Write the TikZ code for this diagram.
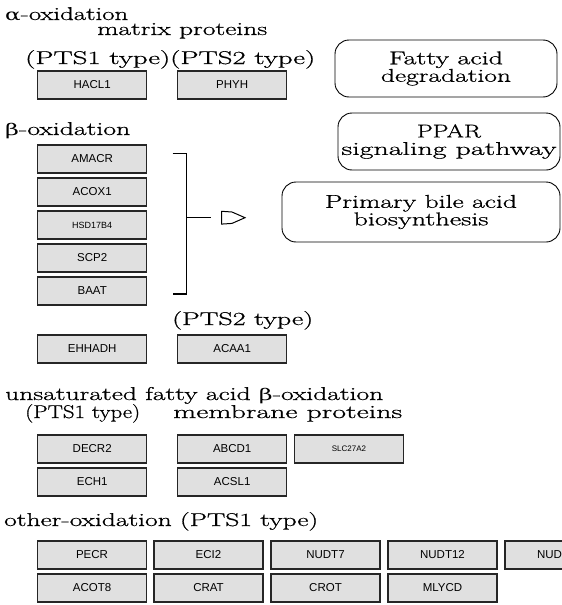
\documentclass[tikz,border=0pt]{standalone}
\usepackage{fontspec}
\usepackage{graphicx}
\setmainfont{Latin Modern Roman}[FakeBold=0.7]
\newfontfamily\genefont{Liberation Sans}
\newfontfamily\grk{DejaVu Serif}
\newcommand{\fw}[2]{\resizebox{#1pt}{\height}{#2}}
\definecolor{genefill}{RGB}{224,224,224}
\begin{document}
\begin{tikzpicture}[x=1pt,y=-1pt,
  gene/.style={draw=black!85, line width=1.3pt, fill=genefill, minimum width=109pt, minimum height=28pt, inner sep=0pt, font=\genefont\fontsize{11.5}{12}\selectfont},
  pathbox/.style={draw, line width=0.9pt, rounded corners=14pt, inner sep=0pt, align=center, font=\fontsize{18.5}{17.5}\selectfont},
  lbl/.style={anchor=base west, inner sep=0pt, font=\fontsize{18.5}{20}\selectfont},
  brk/.style={line width=1.3pt}]
\path[use as bounding box, clip] (0,0) rectangle (562,605);
\fill[white] (0,0) rectangle (562,605);

% section labels
\node[lbl] (talpha) at (5,20) {\fw{123}{{\grk\fontsize{16}{18}\selectfont α}-oxidation}};
\node[lbl] (tmatrix) at (97,35) {\fw{170}{matrix proteins}};
\node[lbl] (tpts) at (25,64) {\fw{290}{(PTS1 type)(PTS2 type)}};
\node[lbl] (tbeta) at (5,135) {\fw{125}{{\grk\fontsize{16}{18}\selectfont β}-oxidation}};
\node[lbl] (tpts2b) at (172,325) {\fw{141}{(PTS2 type)}};
\node[lbl] (tunsat) at (5,400) {\fw{378}{unsaturated fatty acid {\grk\fontsize{16}{18}\selectfont β}-oxidation}};
\node[lbl] (tpts1b) at (25,418) {\fw{115}{(PTS1 type)}};
\node[lbl] (tmemb) at (173,418) {\fw{229}{membrane proteins}};
\node[lbl] (tother) at (4,526) {\fw{314}{other-oxidation (PTS1 type)}};

% pathway boxes
\node[pathbox, minimum width=222pt, minimum height=57pt] (fad) at (446,68.5) {\fw{114}{Fatty acid}\\\fw{130}{degradation}};
\node[pathbox, minimum width=222pt, minimum height=57pt] (ppar) at (449,141.5) {\fw{64}{PPAR}\\\fw{215}{signaling pathway}};
\node[pathbox, minimum width=278pt, minimum height=60pt] (pba) at (421,212) {\fw{192}{Primary bile acid}\\\fw{135}{biosynthesis}};

% alpha-oxidation genes
\node[gene] (hacl1) at (92.2,85) {HACL1};
\node[gene] (phyh) at (232.2,85) {PHYH};

% beta-oxidation genes
\node[gene] (amacr) at (92.2,159) {AMACR};
\node[gene] (acox1) at (92.2,192) {ACOX1};
\node[gene, font=\genefont\fontsize{9}{10}\selectfont] (hsd) at (92.2,225) {HSD17B4};
\node[gene] (scp2) at (92.2,258) {SCP2};
\node[gene] (baat) at (92.2,291) {BAAT};
\node[gene] (ehhadh) at (92.2,349) {EHHADH};
\node[gene] (acaa1) at (232.2,349) {ACAA1};

% bracket and arrow
\coordinate (b1) at (172.7,153.3);
\coordinate (b2) at (186.7,153.3);
\coordinate (b3) at (186.7,294);
\coordinate (b4) at (172.7,294);
\coordinate (bm) at (186.7,217.7);
\coordinate (be) at (211,217.7);
\draw[brk] (b1) -- (b2) -- (b3) -- (b4);
\draw[brk] (bm) -- (be);
\draw[line width=1pt, line join=miter] (221.7,211.3) -- (232,212) -- (245,217.7) -- (232,223.4) -- (221.7,224.1) -- cycle;

% unsaturated fatty acid beta-oxidation
\node[gene] (decr2) at (92.2,449) {DECR2};
\node[gene] (abcd1) at (232.2,449) {ABCD1};
\node[gene, font=\genefont\fontsize{8}{9}\selectfont] (slc) at (349,449) {SLC27A2};
\node[gene] (ech1) at (92.2,482) {ECH1};
\node[gene] (acsl1) at (232.2,482) {ACSL1};

% other oxidation
\node[gene] (pecr) at (92,555) {PECR};
\node[gene] (eci2) at (208.5,555) {ECI2};
\node[gene] (nudt7) at (325.5,555) {NUDT7};
\node[gene] (nudt12) at (442.5,555) {NUDT12};
\node[gene] (nudt19) at (559.5,555) {NUDT19};
\node[gene] (acot8) at (92,588) {ACOT8};
\node[gene] (crat) at (208.5,588) {CRAT};
\node[gene] (crot) at (325.5,588) {CROT};
\node[gene] (mlycd) at (442.5,588) {MLYCD};
\end{tikzpicture}
\end{document}
